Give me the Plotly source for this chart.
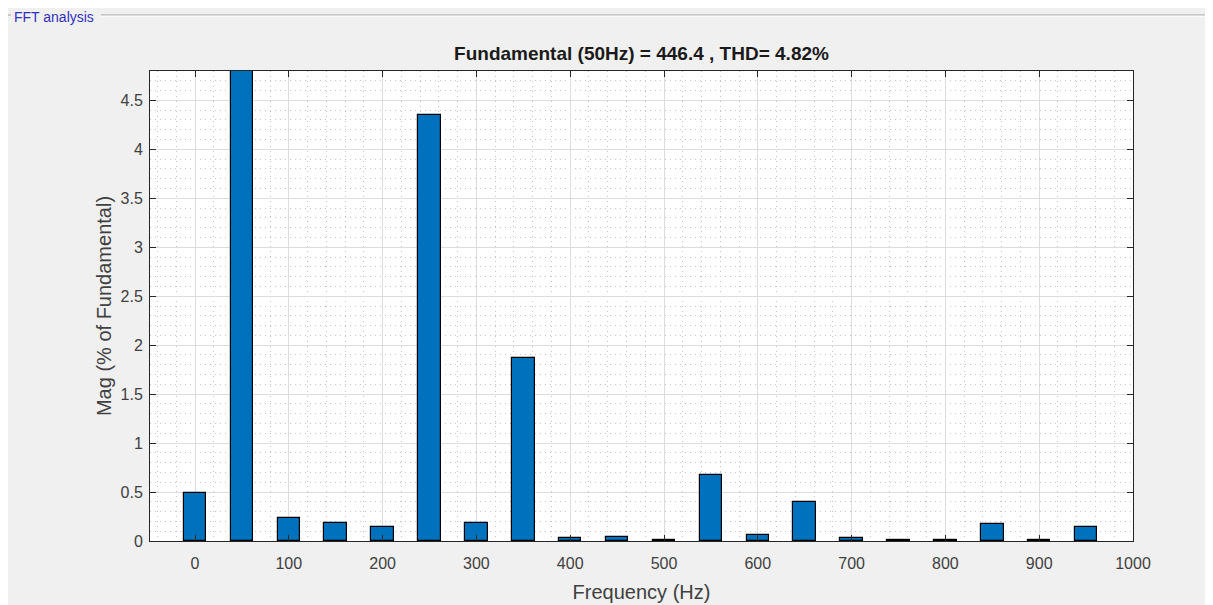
import plotly.graph_objects as go

# Data
freqs = [0, 50, 100, 150, 200, 250, 300, 350, 400, 450, 500,
         550, 600, 650, 700, 750, 800, 850, 900, 950]
mags = [0.49, 100.0, 0.23, 0.18, 0.14, 4.35, 0.18, 1.87, 0.03, 0.045, 0.01,
        0.67, 0.06, 0.40, 0.03, 0.01, 0.01, 0.17, 0.01, 0.14]
x_ticks = [0, 100, 200, 300, 400, 500, 600, 700, 800, 900, 1000]
y_ticks = [0, 0.5, 1, 1.5, 2, 2.5, 3, 3.5, 4, 4.5]
title_text = "Fundamental (50Hz) = 446.4 , THD= 4.82%"

# page body has an 8px margin: compensate so the figure fills the window
OFF = 8
W, H = 1213 - OFF, 605 - OFF
L, R, T, B = 150 - OFF, 1133 - OFF, 71 - OFF, 541 - OFF


def px(xp):
    return (xp - OFF - L) / (R - L)


def py(yp):
    return (B - (yp - OFF)) / (B - T)


FONT = "Liberation Sans, Arial, Helvetica, sans-serif"

fig = go.Figure(go.Bar(
    x=freqs, y=mags, width=24,
    marker=dict(color="#0072BD", line=dict(color="#000000", width=1.2)),
))

axis_common = dict(
    showline=True, linecolor="#262626", linewidth=1, mirror="allticks",
    ticks="inside", ticklen=6, tickcolor="#262626",
    showgrid=True, gridcolor="#dcdcdc", gridwidth=1,
    zeroline=False, layer="above traces", automargin=False,
    tickfont=dict(family=FONT, size=16, color="#404040"),
)

fig.update_layout(
    width=W, height=H,
    margin=dict(l=L, r=W - R, t=T, b=H - B),
    paper_bgcolor="#f0f0f0", plot_bgcolor="#ffffff",
    showlegend=False,
    bargap=0,
    title=dict(text="<b>" + title_text + "</b>", x=(L + R) / 2 / W, xanchor="center",
               y=1 - (53 - OFF) / H, yanchor="middle",
               font=dict(family=FONT, size=19, color="#1a1a1a")),
    xaxis=dict(
        range=[-48, 1000], tickmode="array", tickvals=x_ticks,
        ticktext=[str(v) for v in x_ticks], ticklabelstandoff=8,
        title=dict(text="Frequency (Hz)", standoff=13,
                   font=dict(family=FONT, size=20, color="#404040")),
        minor=dict(dtick=20, showgrid=True, griddash="1px,4px", gridcolor="#c4c4c4",
                   gridwidth=1, ticks=""),
        **axis_common,
    ),
    yaxis=dict(
        range=[0, 4.8], tickmode="array", tickvals=y_ticks,
        ticktext=[("%g" % v) for v in y_ticks], ticklabelstandoff=3,
        title=dict(text="Mag (% of Fundamental)", standoff=3,
                   font=dict(family=FONT, size=20, color="#404040")),
        minor=dict(dtick=0.1, showgrid=True, griddash="1px,4px", gridcolor="#c4c4c4",
                   gridwidth=1, ticks=""),
        **axis_common,
    ),
)

# Group-box frame ("FFT analysis" panel)
frame_col = "#a0a0a0"
hl_col = "#ffffff"
shapes = [
    dict(type="line", xref="paper", yref="paper", x0=px(6), x1=px(11), y0=py(15), y1=py(15),
         line=dict(color=frame_col, width=1)),
    dict(type="line", xref="paper", yref="paper", x0=px(101), x1=px(1213), y0=py(15), y1=py(15),
         line=dict(color=frame_col, width=1)),
    dict(type="line", xref="paper", yref="paper", x0=px(101), x1=px(1213), y0=py(16.2), y1=py(16.2),
         line=dict(color=hl_col, width=1)),
    dict(type="line", xref="paper", yref="paper", x0=px(6), x1=px(6), y0=py(15), y1=py(605),
         line=dict(color=frame_col, width=1)),
    dict(type="line", xref="paper", yref="paper", x0=px(7.2), x1=px(7.2), y0=py(16), y1=py(605),
         line=dict(color=hl_col, width=1)),
]
fig.update_layout(shapes=shapes)

fig.add_annotation(
    text="FFT analysis", xref="paper", yref="paper",
    x=px(12), y=py(17), xanchor="left", yanchor="middle", showarrow=False,
    font=dict(family=FONT, size=14, color="#3030c0"),
)

fig.write_html("out.html")
